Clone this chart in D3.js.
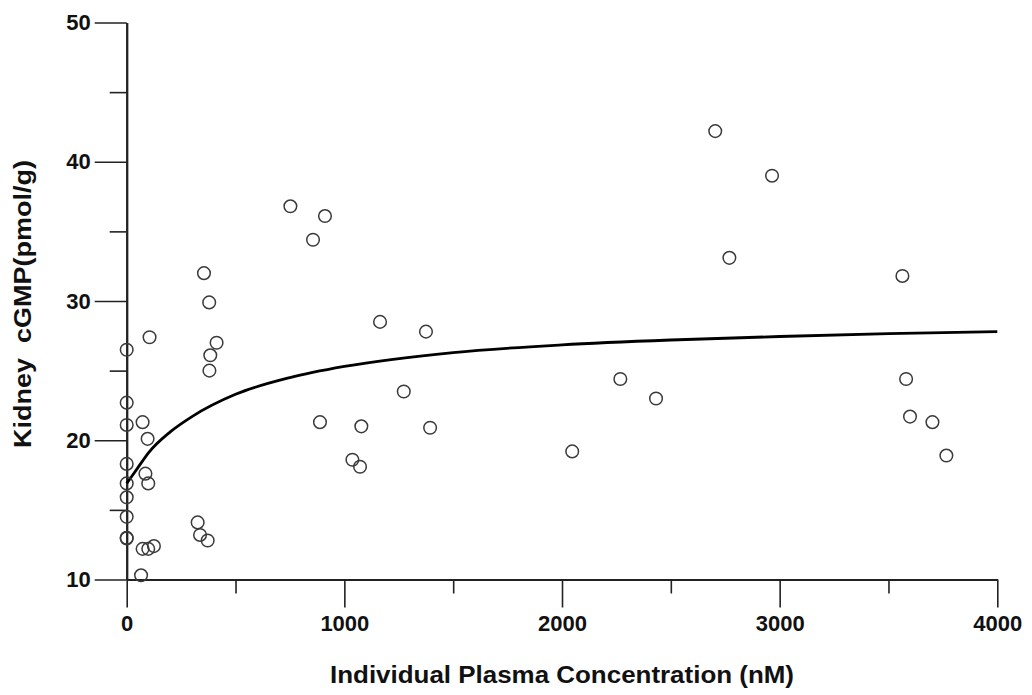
<!DOCTYPE html>
<html>
<head>
<meta charset="utf-8">
<script src="https://cdn.jsdelivr.net/npm/d3@7"></script>
<style>
	body { margin: 0; background: #fff; }
	svg text { font-family: "Liberation Sans", Arial, sans-serif; font-weight: bold; fill: #111; }
</style>
</head>
<body>
<svg id="chart" width="1032" height="695"></svg>
<script>

// individual animals: plasma concentration (nM) and kidney cGMP (pmol/g)
var concentration = [
	0, 0, 0, 0, 0, 0, 0, 0, 0,
	73, 96, 86, 99, 105, 66, 73, 99, 125,
	355, 379, 413, 384, 380, 326, 337, 372,
	752, 911, 856, 1164, 1375, 1273, 888, 1078, 1394, 1037, 1072,
	2704, 2965, 2769, 2268, 2432, 2047,
	3564, 3581, 3599, 3702, 3766
];
var cgmp = [
	26.5, 22.7, 21.1, 18.3, 16.9, 15.9, 14.5, 13.0, 12.95,
	21.3, 20.1, 17.6, 16.9, 27.4, 10.3, 12.2, 12.2, 12.4,
	32.0, 29.9, 27.0, 26.1, 25.0, 14.1, 13.2, 12.8,
	36.8, 36.1, 34.4, 28.5, 27.8, 23.5, 21.3, 21.0, 20.9, 18.6, 18.1,
	42.2, 39.0, 33.1, 24.4, 23.0, 19.2,
	31.8, 24.4, 21.7, 21.3, 18.9
];

// fitted curve
var fitX = [0, 50, 100, 200, 300, 500, 750, 1000, 1500, 2000, 2500, 3000, 3500, 4000];
var fitY = [16.9, 18.0, 19.1, 20.6, 21.7, 23.3, 24.5, 25.3, 26.3, 26.85, 27.2, 27.45, 27.65, 27.8];

var xMajor = [0, 1000, 2000, 3000, 4000];
var xMinor = [500, 1500, 2500, 3500];
var yMajor = [10, 20, 30, 40, 50];
var yMinor = [15, 25, 35, 45];

var xTitle = "Individual Plasma Concentration (nM)";
var yTitle = "Kidney  cGMP(pmol/g)";


var svg = d3.select("#chart");

var x = d3.scaleLinear().domain([0, 4000]).range([126.7, 997.3]);
var y = d3.scaleLinear().domain([10, 50]).range([579.5, 22.5]);

function styleAxis(g) {
	g.attr("font-family", null).attr("font-size", null);
	g.selectAll("path.domain").attr("stroke", "#222").attr("stroke-width", 2);
	g.selectAll(".tick line").attr("stroke", "#222").attr("stroke-width", 1.6);
	g.selectAll("text").style("font-size", "22px");
}

// minor ticks first, majors drawn on top
svg.append("g")
	.attr("transform", "translate(0," + y(10) + ")")
	.call(d3.axisBottom(x).tickValues(xMinor).tickSize(14).tickSizeOuter(0).tickFormat(""))
	.call(styleAxis);

svg.append("g")
	.attr("transform", "translate(0," + y(10) + ")")
	.call(d3.axisBottom(x).tickValues(xMajor).tickSize(28).tickSizeOuter(0).tickPadding(8)
		.tickFormat(d3.format("d")))
	.call(styleAxis);

svg.append("g")
	.attr("transform", "translate(" + x(0) + ",0)")
	.call(d3.axisLeft(y).tickValues(yMinor).tickSize(17).tickSizeOuter(0).tickFormat(""))
	.call(styleAxis);

svg.append("g")
	.attr("transform", "translate(" + x(0) + ",0)")
	.call(d3.axisLeft(y).tickValues(yMajor).tickSize(32).tickSizeOuter(0).tickPadding(4))
	.call(styleAxis);

// fitted curve
var line = d3.line()
	.x(function(d, i) { return x(fitX[i]); })
	.y(function(d) { return y(d); })
	.curve(d3.curveMonotoneX);

svg.append("path")
	.datum(fitY)
	.attr("d", line)
	.attr("fill", "none")
	.attr("stroke", "#000")
	.attr("stroke-width", 2.8);

// data points
svg.selectAll("circle.pt")
	.data(cgmp)
	.enter().append("circle")
	.attr("class", "pt")
	.attr("cx", function(d, i) { return x(concentration[i]); })
	.attr("cy", function(d) { return y(d); })
	.attr("r", 6.3)
	.attr("fill", "none")
	.attr("stroke", "#3a3a3a")
	.attr("stroke-width", 1.5);

// axis titles
svg.append("text")
	.attr("x", (x(0) + x(4000)) / 2)
	.attr("y", 683)
	.attr("text-anchor", "middle")
	.style("font-size", "23px")
	.attr("textLength", 464)
	.attr("lengthAdjust", "spacingAndGlyphs")
	.text(xTitle);

svg.append("text")
	.attr("transform", "translate(31,304) rotate(-90)")
	.attr("text-anchor", "middle")
	.style("font-size", "23px")
	.style("white-space", "pre")
	.attr("textLength", 288)
	.attr("lengthAdjust", "spacingAndGlyphs")
	.text(yTitle);

</script>
</body>
</html>
